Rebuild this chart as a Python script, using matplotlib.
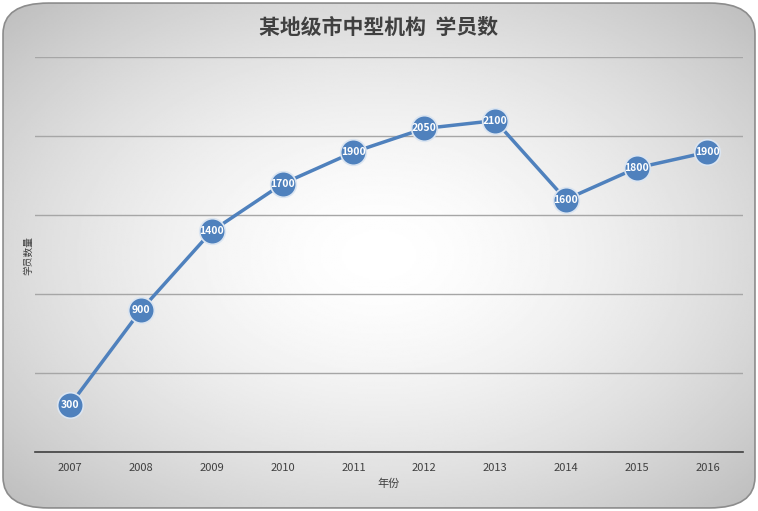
import matplotlib

matplotlib.use("Agg")
import matplotlib.pyplot as plt
import numpy as np
from matplotlib.patches import FancyBboxPatch

plt.rcParams["font.family"] = ["Noto Sans CJK SC", "DejaVu Sans"]

years = ["2007", "2008", "2009", "2010", "2011", "2012", "2013", "2014", "2015", "2016"]
students = [300, 900, 1400, 1700, 1900, 2050, 2100, 1600, 1800, 1900]

BLUE = "#4f81bd"

fig = plt.figure(figsize=(7.58, 5.11), dpi=100)

# radial gradient background with rounded frame
bg = fig.add_axes([0, 0, 1, 1], zorder=-2)
bg.set_xlim(0, 1)
bg.set_ylim(0, 1)
bg.axis("off")
yy, xx = np.mgrid[0:1:300j, 0:1:400j]
r = np.sqrt(((xx - 0.5) / 0.7) ** 2 + ((yy - 0.5) / 0.7) ** 2)
shade = 1.0 - 0.26 * np.clip(r, 0, 1) ** 1.6
frame = FancyBboxPatch((0.004, 0.006), 0.992, 0.988, boxstyle="round,pad=0,rounding_size=0.06",
                       transform=bg.transAxes, facecolor="none", edgecolor="#8c8c8c", lw=1.2)
bg.add_patch(frame)
img = bg.imshow(shade, cmap="gray", vmin=0, vmax=1, extent=(0, 1, 0, 1), aspect="auto", origin="lower")
img.set_clip_path(frame)

ax = fig.add_axes([0.046, 0.1155, 0.934, 0.772])
ax.patch.set_alpha(0)
x = np.arange(len(years))
ax.plot(x, students, color=BLUE, lw=2.5, zorder=3)
ax.scatter(x, students, s=340, color=BLUE, edgecolor="#dbe5f1", linewidth=1.2, zorder=4)
for xi, v in zip(x, students):
    ax.text(xi, v, str(v), ha="center", va="center", color="white", fontsize=7.5,
            fontweight="bold", zorder=5)

ax.set_xlim(-0.5, len(years) - 0.5)
ax.set_ylim(0, 2500)
ax.set_yticks(range(0, 2501, 500))
ax.set_yticklabels([])
ax.tick_params(axis="y", length=0)
ax.grid(axis="y", color="#a6a6a6", lw=1)
ax.set_axisbelow(True)
ax.set_xticks(x)
ax.set_xticklabels(years, fontsize=8, color="#404040")
ax.tick_params(axis="x", length=0, pad=8)
for side in ["top", "right", "left"]:
    ax.spines[side].set_visible(False)
ax.spines["bottom"].set_color("#404040")
ax.spines["bottom"].set_linewidth(1.2)

ax.set_xlabel("年份", fontsize=8, color="#404040", labelpad=4)
fig.text(0.037, 0.5, "学员数量", rotation=90, fontsize=7, ha="center", va="center", color="#404040")
fig.text(0.5, 0.947, "某地级市中型机构  学员数", fontsize=15, fontweight="bold",
         ha="center", va="center", color="#404040")

fig.savefig("out.png", dpi=100)
